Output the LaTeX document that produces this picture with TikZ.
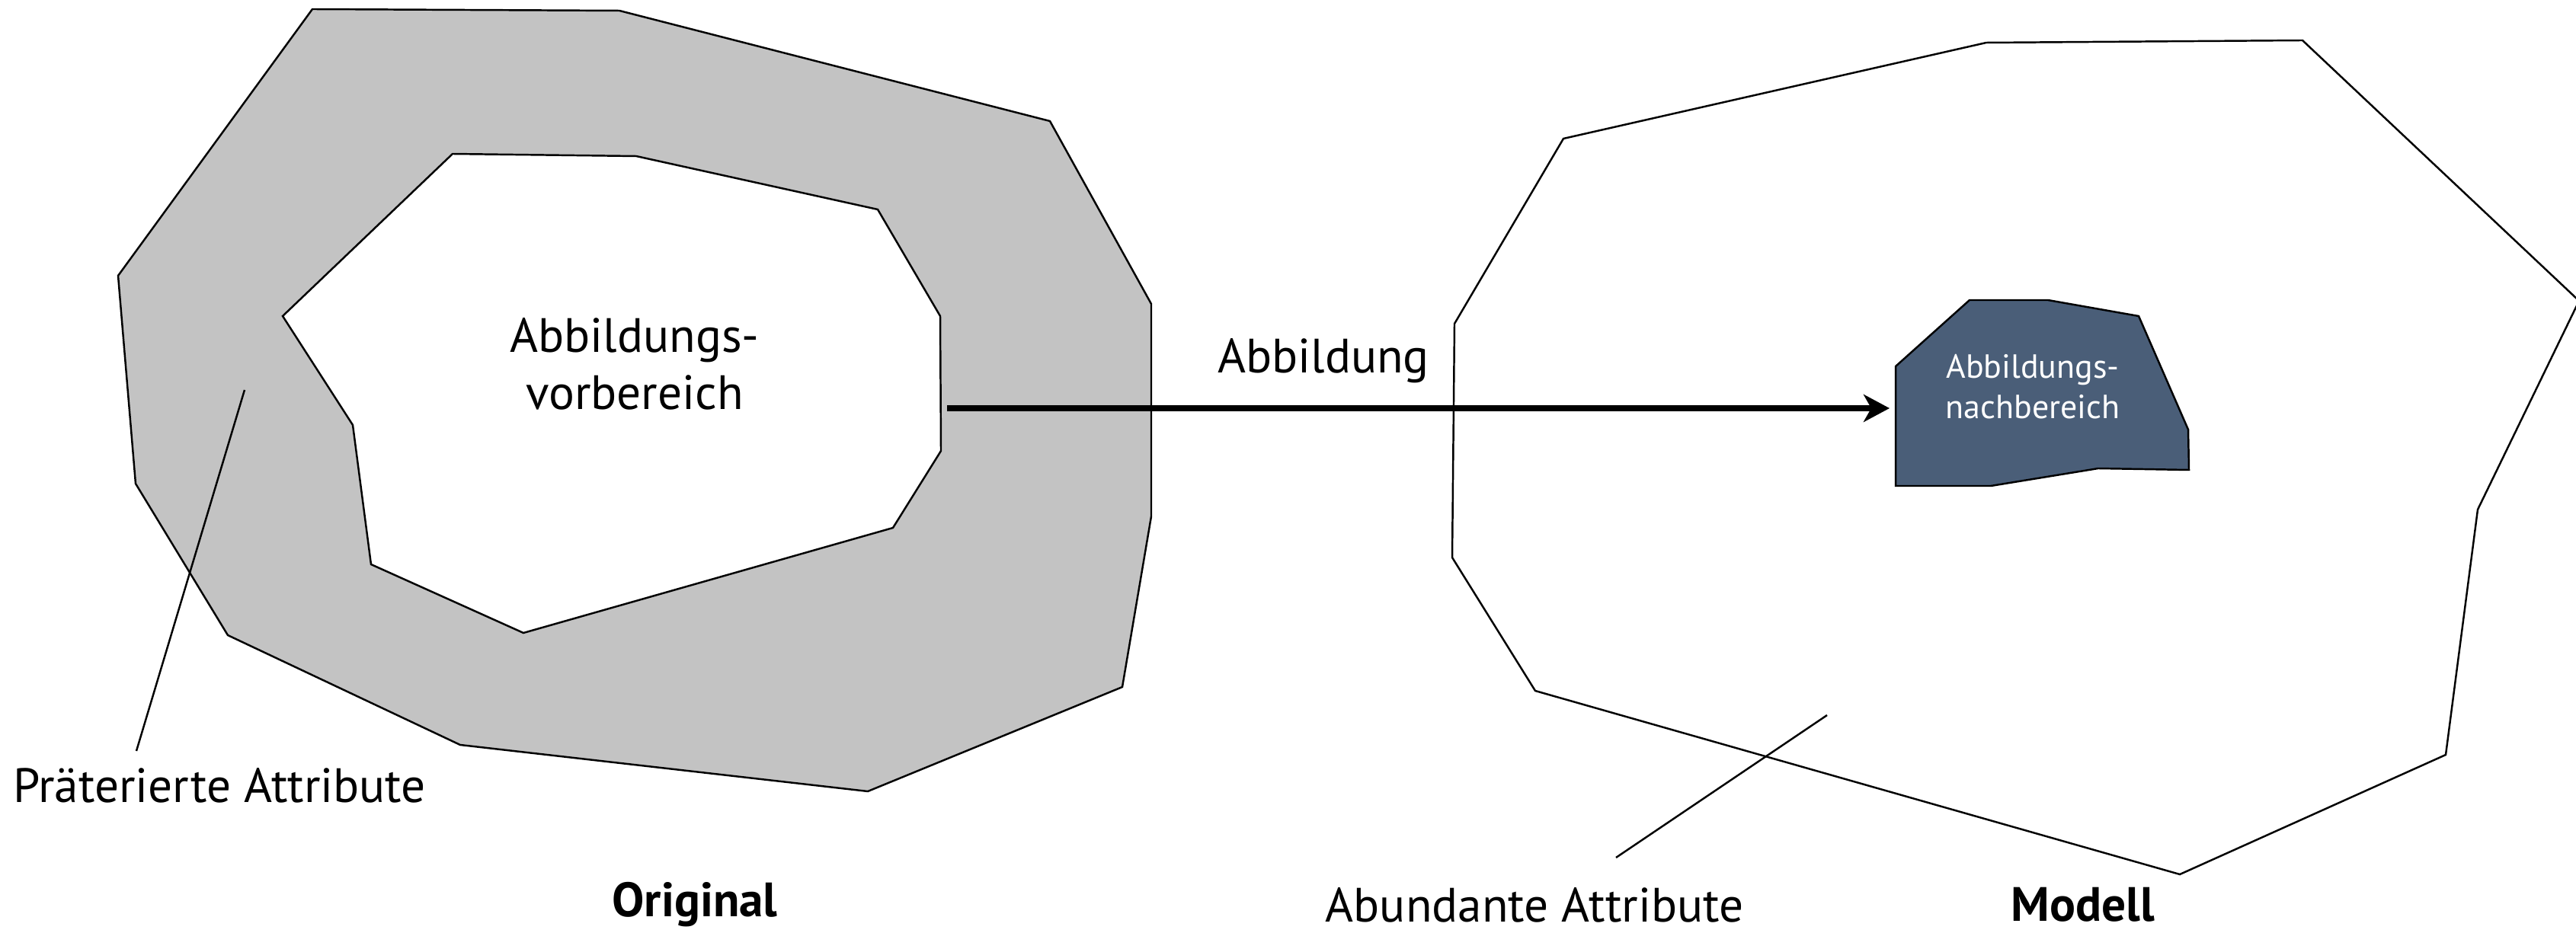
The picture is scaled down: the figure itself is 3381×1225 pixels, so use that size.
\documentclass[tikz,border=0pt]{standalone}
\usepackage{fontspec}
\setmainfont{PT Sans}
\usetikzlibrary{arrows.meta}

\definecolor{attrgrau}{HTML}{C3C3C3}
\definecolor{nachblau}{HTML}{4A5E78}

\begin{document}
\begin{tikzpicture}[x=0.01cm, y=-0.01cm,
    rand/.style={draw=black, line width=0.7pt, line join=miter},
    text19/.style={font=\fontsize{18}{21.3}\selectfont, align=center, inner sep=0pt},
    titel/.style={font=\fontsize{18}{21.3}\selectfont\bfseries, inner sep=0pt}]
    \useasboundingbox (0,0) rectangle (3381,1225);

    % Original: outer band (praeterierte Attribute)
    \fill[attrgrau, rand] (410,12) -- (813,14) -- (1378,159) -- (1511,399) -- (1511,678)
        -- (1473,902) -- (1139,1039) -- (604,978) -- (299,834) -- (178,635) -- (155,362) -- cycle;

    % Original: Abbildungsvorbereich
    \fill[white, rand] (594,202) -- (835,205) -- (1152,275) -- (1234,415) -- (1235,592)
        -- (1172,693) -- (687,831) -- (487,741) -- (463,558) -- (371,415) -- cycle;

    % Modell: outer border
    \draw[rand] (2052,182) -- (2607,56) -- (3022,53) -- (3385,395) -- (3252,669)
        -- (3210,991) -- (2861,1148) -- (2015,907) -- (1906,732) -- (1909,425) -- cycle;

    % Modell: Abbildungsnachbereich
    \fill[nachblau, rand] (2585,394) -- (2688,394) -- (2807,415) -- (2872,564) -- (2873,617)
        -- (2754,615) -- (2613,638) -- (2488,638) -- (2488,481) -- cycle;

    % Texts
    \node[text19] (vorbereich) at (833,478) {Abbildungs-\\vorbereich};
    \node[text19, font=\fontsize{12.5}{15}\selectfont, text=white] (nachbereich) at (2668,508) {Abbildungs-\\nachbereich};
    \node[text19] (abbildung) at (1737,474) {Abbildung};
    \node[text19] (praeterierte) at (288,1031) {Präterierte Attribute};
    \node[text19] (abundante) at (2014,1188) {Abundante Attribute};
    \node[titel] (original) at (912,1188) {Original};
    \node[titel] (modell) at (2734,1188) {Modell};

    % Define coordinates
    \coordinate (vor rand) at (1243,536);
    \coordinate (nach rand) at (2480,536);
    \coordinate (praet zeiger) at (321,512);
    \coordinate (praet fuss) at (179,986);
    \coordinate (abund zeiger) at (2398,939);
    \coordinate (abund fuss) at (2121,1126);

    % Abbildung arrow
    \draw[-{Stealth[length=0.34cm, width=0.36cm, inset=0.1cm]}, line width=2pt] (vor rand) -- (nach rand);

    % Pointer lines
    \draw[line width=0.7pt] (praet zeiger) -- (praet fuss);
    \draw[line width=0.7pt] (abund zeiger) -- (abund fuss);
\end{tikzpicture}
\end{document}
